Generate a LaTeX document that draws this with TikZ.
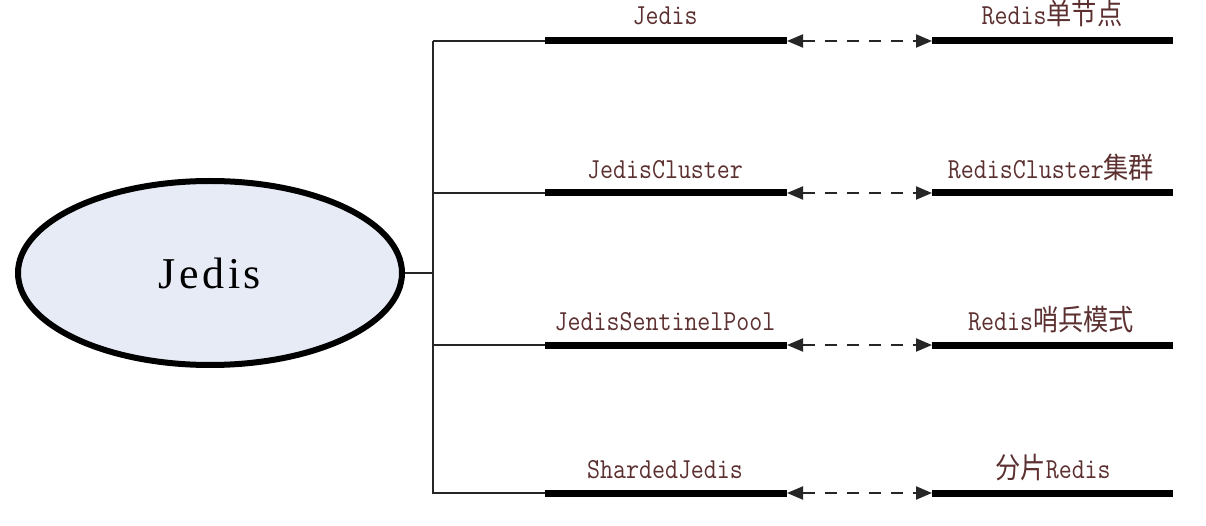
\documentclass[tikz,border=0pt]{standalone}
\usepackage{fontspec}
\newfontfamily\cjk{Noto Sans CJK SC}
\newfontfamily\ellfont[LetterSpace=8]{Liberation Serif}
\usetikzlibrary{arrows.meta,shapes.geometric}
\definecolor{lbltext}{RGB}{92,48,48}
\definecolor{ellfill}{RGB}{230,235,245}
\newcommand{\lbltxt}[2]{\scalebox{0.87}[1]{\fontsize{29}{29}\selectfont\ttfamily #1{\cjk\fontsize{29}{29}\selectfont #2}}}
\newcommand{\lbltxtb}[2]{\scalebox{0.87}[1]{{\cjk\fontsize{29}{29}\selectfont #1}\fontsize{29}{29}\selectfont\ttfamily #2}}
\begin{document}
\begin{tikzpicture}[x=1pt,y=-1pt,
  thin line/.style={line width=2pt,draw=black!85},
  bar/.style={line width=7pt,draw=black},
  link/.style={line width=2pt,draw=black!85,dash pattern=on 12pt off 10pt,
    {Triangle[length=16pt,width=13pt]}-{Triangle[length=16pt,width=13pt]}},
  lbl/.style={text=lbltext,inner sep=0pt,anchor=base}]
\useasboundingbox (0,0) rectangle (1206,526);
\node[ellipse,draw=black,line width=6pt,fill=ellfill,minimum width=384pt,minimum height=184pt,
  font={\ellfont\fontsize{44}{44}\selectfont}] (jedis) at (210,273) {Jedis};
\coordinate (ttop) at (433,41);
\coordinate (tbot) at (433,494);
\draw[thin line] (jedis.east) -- (jedis.east -| ttop);
\draw[thin line] (ttop) -- (tbot);
\foreach \i/\y in {1/41,2/193,3/345,4/493}{
  \coordinate (b\i) at (433,\y);
  \coordinate (l\i s) at (545,\y);
  \coordinate (l\i e) at (787,\y);
  \coordinate (r\i s) at (932,\y);
  \coordinate (r\i e) at (1173,\y);
  \draw[thin line] (b\i) -- (l\i s);
  \draw[bar] (l\i s) -- (l\i e);
  \draw[bar] (r\i s) -- (r\i e);
  \draw[link] (l\i e) -- (r\i s);
}
\node[lbl] (t1l) at (665,25) {\lbltxt{Jedis}{}};
\node[lbl] (t2l) at (665,179) {\lbltxt{JedisCluster}{}};
\node[lbl] (t3l) at (665,330) {\lbltxt{JedisSentinelPool}{}};
\node[lbl] (t4l) at (665,478) {\lbltxt{ShardedJedis}{}};
\node[lbl] (t1r) at (1052,25) {\lbltxt{Redis}{单节点}};
\node[lbl] (t2r) at (1051,179) {\lbltxt{RedisCluster}{集群}};
\node[lbl] (t3r) at (1051,330) {\lbltxt{Redis}{哨兵模式}};
\node[lbl] (t4r) at (1053,478) {\lbltxtb{分片}{Redis}};
\end{tikzpicture}
\end{document}
